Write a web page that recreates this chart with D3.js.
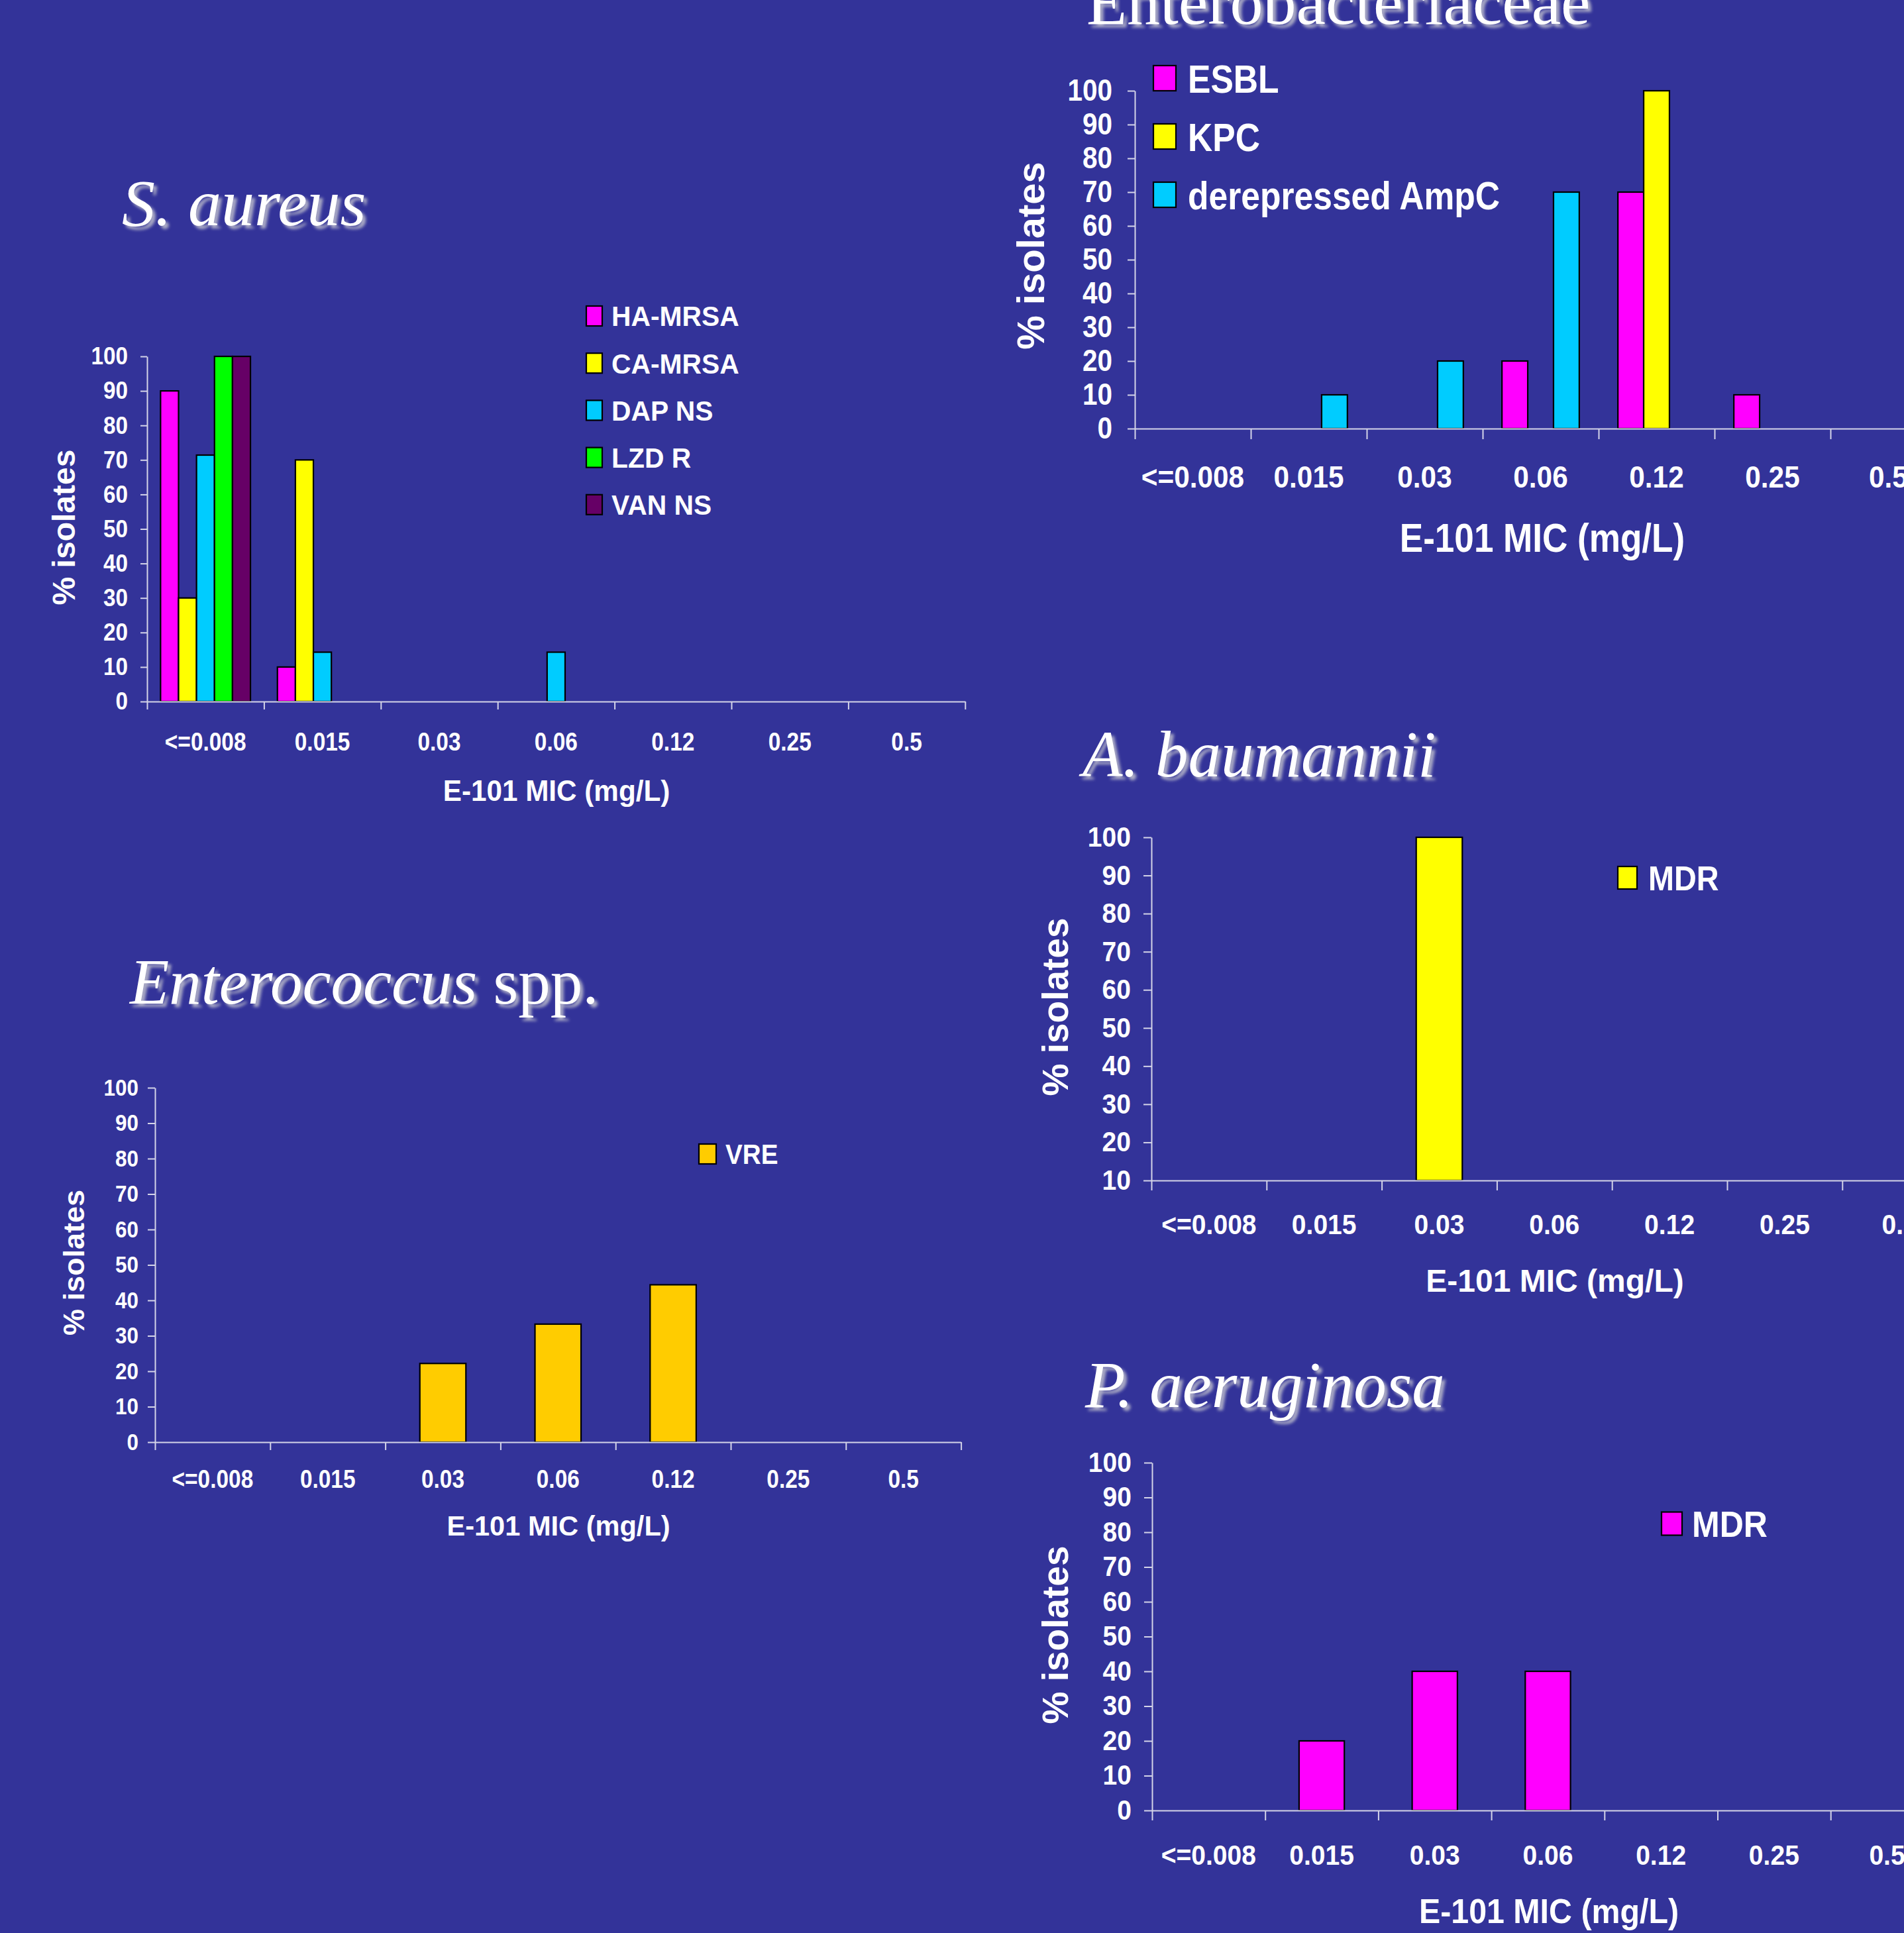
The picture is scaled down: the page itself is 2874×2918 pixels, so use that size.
<!DOCTYPE html>
<html>
<head>
<meta charset="utf-8">
<script src="https://cdn.jsdelivr.net/npm/d3@7"></script>
<style>
    body { margin: 0; background: #333399; }
    svg { display: block; }
    text { fill: #fff; font-family: "Liberation Sans", Arial, sans-serif; font-weight: bold; }
    .title { font-family: "Liberation Serif", "Times New Roman", serif; font-weight: normal; }
    .axis path, .axis line { stroke: #d4d4e8; stroke-width: 2; }
</style>
</head>
<body>
<svg id="chart"></svg>
<script>
// MIC categories (x axis)
const micLabels = ['<=0.008', '0.015', '0.03', '0.06', '0.12', '0.25', '0.5']
const yTicksPct = [0, 10, 20, 30, 40, 50, 60, 70, 80, 90, 100]
const yTicksBaumannii = [10, 20, 30, 40, 50, 60, 70, 80, 90, 100]

// S. aureus
const saureusSeries = ['HA-MRSA', 'CA-MRSA', 'DAP NS', 'LZD R', 'VAN NS']
const saureusHaMrsa = [90, 10, 0, 0, 0, 0, 0]
const saureusCaMrsa = [30, 70, 0, 0, 0, 0, 0]
const saureusDapNs = [71.4, 14.3, 0, 14.3, 0, 0, 0]
const saureusLzdR = [100, 0, 0, 0, 0, 0, 0]
const saureusVanNs = [100, 0, 0, 0, 0, 0, 0]

// Enterobacteriaceae
const enteroSeries = ['ESBL', 'KPC', 'derepressed AmpC']
const enteroEsbl = [0, 0, 0, 20, 70, 10, 0]
const enteroKpc = [0, 0, 0, 0, 100, 0, 0]
const enteroAmpC = [0, 10, 20, 70, 0, 0, 0]

// Enterococcus spp.
const enterococcusSeries = ['VRE']
const enterococcusVre = [0, 0, 22.2, 33.3, 44.4, 0, 0]

// A. baumannii
const baumanniiSeries = ['MDR']
const baumanniiMdr = [0, 0, 100, 0, 0, 0, 0]

// P. aeruginosa
const aeruginosaSeries = ['MDR']
const aeruginosaMdr = [0, 20, 40, 40, 0, 0, 0]

const width = 2874, height = 2918

const svg = d3.select('#chart')
    .attr('width', width)
    .attr('height', height)

svg.append('rect').attr('width', width).attr('height', height).attr('fill', '#333399')

const defs = svg.append('defs')
defs.append('filter').attr('id', 'soft')
    .append('feGaussianBlur').attr('stdDeviation', 2)

// Panel layouts
const panels = [
    {
        title: [{ t: 'S. aureus', italic: true }], tx: 184, ty: 340, tsize: 100,
        series: saureusSeries,
        values: [saureusHaMrsa, saureusCaMrsa, saureusDapNs, saureusLzdR, saureusVanNs],
        colors: ['#ff00ff', '#ffff00', '#00ccff', '#00ff00', '#660066'],
        x0: 222, band: 176.4, yTop: 538, yBot: 1059, yDomain: [0, 100], yTicks: yTicksPct,
        yTick: { len: 10, pad: 19, size: 37, sx: 0.9 },
        xTick: { len: 12, top: 47, size: 38, sx: 0.88 },
        xTitle: { x: 840, y: 1209, size: 44, sx: 0.96 },
        yTitle: { x: 113, y: 796, size: 48 },
        legend: { x: 885, y: 477, step: 71.2, w: 24, h: 30, tx: 923, size: 43, sx: 0.95 }
    },
    {
        title: [{ t: 'Enterobacteriaceae', italic: false }], tx: 1640, ty: 36, tsize: 100,
        series: enteroSeries,
        values: [enteroEsbl, enteroKpc, enteroAmpC],
        colors: ['#ff00ff', '#ffff00', '#00ccff'],
        x0: 1713, band: 175, yTop: 137, yBot: 647, yDomain: [0, 100], yTicks: yTicksPct,
        yTick: { len: 11, pad: 23, size: 46, sx: 0.88 },
        xTick: { len: 16, top: 56, size: 46, sx: 0.92 },
        xTitle: { x: 2328, y: 833, size: 61, sx: 0.87 },
        yTitle: { x: 1576, y: 386, size: 58 },
        legend: { x: 1741, y: 118, step: 88, w: 34, h: 38, tx: 1793, size: 60, sx: 0.86 }
    },
    {
        title: [{ t: 'Enterococcus', italic: true }, { t: ' spp.', italic: false }], tx: 196, ty: 1515, tsize: 97,
        series: enterococcusSeries,
        values: [enterococcusVre],
        colors: ['#ffcc00'],
        x0: 234, band: 173.8, yTop: 1642, yBot: 2177, yDomain: [0, 100], yTicks: yTicksPct,
        yTick: { len: 11, pad: 14, size: 35, sx: 0.9 },
        xTick: { len: 12, top: 42, size: 38, sx: 0.88 },
        xTitle: { x: 843, y: 2318, size: 42, sx: 0.99 },
        yTitle: { x: 127, y: 1906, size: 45 },
        legend: { x: 1055, y: 1742, step: 0, w: 26, h: 30, tx: 1095, size: 43, sx: 0.9 }
    },
    {
        title: [{ t: 'A. baumannii', italic: true }], tx: 1634, ty: 1172, tsize: 99,
        series: baumanniiSeries,
        values: [baumanniiMdr],
        colors: ['#ffff00'],
        x0: 1738, band: 173.8, yTop: 1264, yBot: 1782, yDomain: [10, 100], yTicks: yTicksBaumannii,
        yTick: { len: 12, pad: 19, size: 42, sx: 0.93 },
        xTick: { len: 15, top: 51, size: 42, sx: 0.93 },
        xTitle: { x: 2347, y: 1950, size: 48, sx: 1 },
        yTitle: { x: 1612, y: 1520, size: 55 },
        legend: { x: 2442, y: 1325, step: 0, w: 29, h: 34, tx: 2488, size: 52, sx: 0.9 }
    },
    {
        title: [{ t: 'P. aeruginosa', italic: true }], tx: 1638, ty: 2124, tsize: 99,
        series: aeruginosaSeries,
        values: [aeruginosaMdr],
        colors: ['#ff00ff'],
        x0: 1739, band: 170.7, yTop: 2208, yBot: 2733, yDomain: [0, 100], yTicks: yTicksPct,
        yTick: { len: 12, pad: 19, size: 42, sx: 0.93 },
        xTick: { len: 15, top: 52, size: 42, sx: 0.93 },
        xTitle: { x: 2338, y: 2903, size: 52, sx: 0.93 },
        yTitle: { x: 1612, y: 2468, size: 55 },
        legend: { x: 2508, y: 2300, step: 0, w: 31, h: 35, tx: 2554, size: 55, sx: 0.91 }
    }
]

panels.forEach(drawPanel)

function drawPanel(p) {
    const g = svg.append('g')

    // Scales
    const n = micLabels.length
    const xEdge = d3.scaleLinear()
        .domain([0, n])
        .range([p.x0, p.x0 + p.band * n])

    const x = d3.scaleBand()
        .domain(micLabels)
        .range(xEdge.range())

    const xSeries = d3.scaleBand()
        .domain(p.series)
        .range([0, x.bandwidth()])
        .paddingOuter(0.75)

    const y = d3.scaleLinear()
        .domain(p.yDomain)
        .range([p.yBot, p.yTop])

    // Title with soft shadow
    const drawTitle = (dx, dy, fill, blur) => {
        const t = g.append('text')
            .attr('class', 'title')
            .attr('x', p.tx + dx)
            .attr('y', p.ty + dy)
            .style('font-size', p.tsize + 'px')
            .style('fill', fill)
        if (blur) t.attr('filter', 'url(#soft)')
        p.title.forEach(part => {
            t.append('tspan')
                .style('font-style', part.italic ? 'italic' : 'normal')
                .text(part.t)
        })
    }
    drawTitle(5, 5, '#a9a9c4', true)
    drawTitle(0, 0, '#ffffff', false)

    // Bars
    p.series.forEach((s, i) => {
        const rows = p.values[i]
            .map((v, j) => ({ v: v, c: micLabels[j] }))
            .filter(d => d.v > 0)

        g.selectAll(null)
            .data(rows)
            .enter()
            .append('rect')
            .attr('x', d => x(d.c) + xSeries(s))
            .attr('width', xSeries.bandwidth())
            .attr('y', d => y(d.v))
            .attr('height', d => y(p.yDomain[0]) - y(d.v))
            .attr('fill', p.colors[i])
            .attr('stroke', '#000')
            .attr('stroke-width', 2.2)
    })

    // Y axis
    const yAxis = g.append('g')
        .attr('class', 'axis')
        .attr('transform', `translate(${p.x0},0)`)
        .call(d3.axisLeft(y)
            .tickValues(p.yTicks)
            .tickSize(p.yTick.len)
            .tickSizeOuter(0)
            .tickPadding(p.yTick.pad))
    yAxis.selectAll('text')
        .style('font-size', p.yTick.size + 'px')
        .attr('x', -(p.yTick.len + p.yTick.pad) / p.yTick.sx)
        .attr('transform', `scale(${p.yTick.sx},1)`)

    // X axis: ticks between categories
    g.append('g')
        .attr('class', 'axis')
        .attr('transform', `translate(0,${p.yBot})`)
        .call(d3.axisBottom(xEdge)
            .tickValues(d3.range(n + 1))
            .tickFormat('')
            .tickSize(p.xTick.len)
            .tickSizeOuter(0))

    // X axis: category labels
    const xLabels = g.append('g')
        .attr('transform', `translate(0,${p.yBot})`)
        .call(d3.axisBottom(x)
            .tickSize(0)
            .tickPadding(p.xTick.top))
    xLabels.select('.domain').remove()
    xLabels.selectAll('text')
        .style('font-size', p.xTick.size + 'px')
        .attr('transform', `scale(${p.xTick.sx},1)`)

    // Axis titles
    g.append('text')
        .attr('transform', `translate(${p.xTitle.x},${p.xTitle.y}) scale(${p.xTitle.sx},1)`)
        .attr('text-anchor', 'middle')
        .style('font-size', p.xTitle.size + 'px')
        .text('E-101 MIC (mg/L)')

    g.append('text')
        .attr('transform', `translate(${p.yTitle.x},${p.yTitle.y}) rotate(-90)`)
        .attr('text-anchor', 'middle')
        .style('font-size', p.yTitle.size + 'px')
        .text('% isolates')

    // Legend
    const lg = g.selectAll('.legend-item')
        .data(p.series)
        .enter()
        .append('g')
        .attr('transform', (d, i) => `translate(0,${p.legend.y + i * p.legend.step})`)

    lg.append('rect')
        .attr('x', p.legend.x)
        .attr('y', -p.legend.h / 2)
        .attr('width', p.legend.w)
        .attr('height', p.legend.h)
        .attr('fill', (d, i) => p.colors[i])
        .attr('stroke', '#000')
        .attr('stroke-width', 2.2)

    lg.append('text')
        .attr('transform', `translate(${p.legend.tx},${p.legend.size * 0.36}) scale(${p.legend.sx},1)`)
        .style('font-size', p.legend.size + 'px')
        .text(d => d)
}
</script>
</body>
</html>
